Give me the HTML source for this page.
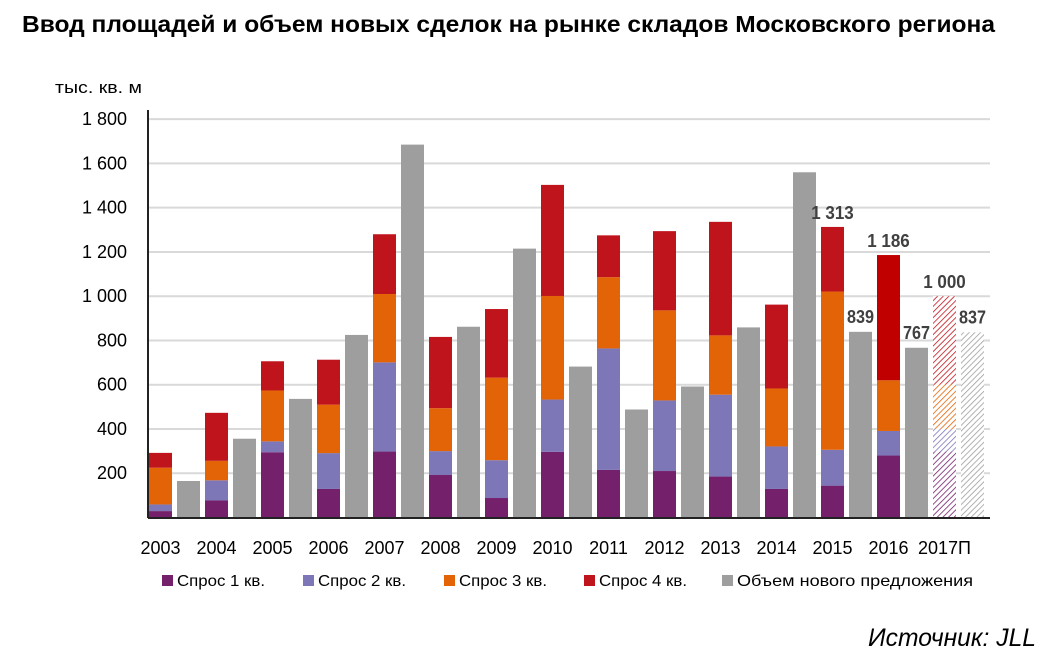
<!DOCTYPE html>
<html><head><meta charset="utf-8"><style>
body{margin:0;background:#fff;}
svg{display:block;font-family:"Liberation Sans",sans-serif;}
</style></head><body>
<svg id="chart" width="1056" height="657" viewBox="0 0 1056 657">
<defs>
<pattern id="h-p" width="4" height="4" patternUnits="userSpaceOnUse" patternTransform="rotate(45)"><rect width="4" height="4" fill="#fff"/><line x1="0" y1="0" x2="0" y2="4" stroke="#74206b" stroke-width="1.6"/></pattern>
<pattern id="h-b" width="4" height="4" patternUnits="userSpaceOnUse" patternTransform="rotate(45)"><rect width="4" height="4" fill="#fff"/><line x1="0" y1="0" x2="0" y2="4" stroke="#7d77b8" stroke-width="1.6"/></pattern>
<pattern id="h-o" width="4" height="4" patternUnits="userSpaceOnUse" patternTransform="rotate(45)"><rect width="4" height="4" fill="#fff"/><line x1="0" y1="0" x2="0" y2="4" stroke="#e36407" stroke-width="1.6"/></pattern>
<pattern id="h-r" width="4" height="4" patternUnits="userSpaceOnUse" patternTransform="rotate(45)"><rect width="4" height="4" fill="#fff"/><line x1="0" y1="0" x2="0" y2="4" stroke="#c0141c" stroke-width="1.6"/></pattern>
<pattern id="h-g" width="4" height="4" patternUnits="userSpaceOnUse" patternTransform="rotate(45)"><rect width="4" height="4" fill="#fff"/><line x1="0" y1="0" x2="0" y2="4" stroke="#9e9e9e" stroke-width="1.6"/></pattern>
</defs>
<text x="22" y="32" font-size="23" font-weight="bold" fill="#000" textLength="973" lengthAdjust="spacingAndGlyphs">Ввод площадей и объем новых сделок на рынке складов Московского региона</text>
<text x="55" y="93" font-size="17" fill="#000" textLength="87" lengthAdjust="spacingAndGlyphs">тыс. кв. м</text>
<g id="grid"></g>
<g id="bars"></g>
<g id="labels"></g>
<line x1="148" y1="110" x2="148" y2="518" stroke="#222" stroke-width="2"/>
<line x1="148" y1="518" x2="990" y2="518" stroke="#222" stroke-width="2"/>
<g id="legend"></g>
<text x="1036" y="646" font-size="25" font-style="italic" text-anchor="end" fill="#000" textLength="168" lengthAdjust="spacingAndGlyphs">Источник: JLL</text>
</svg>
<script>
const years=["2003","2004","2005","2006","2007","2008","2009","2010","2011","2012","2013","2014","2015","2016","2017П"];
const q1=[29,77,295,129,298,192,88,297,215,210,185,129,144,280,298];
const q2=[30,91,49,162,403,108,171,236,549,319,370,192,162,111,102];
const q3=[166,88,230,219,309,194,373,468,322,407,268,262,715,229,201];
const q4=[67,217,132,203,270,322,310,502,189,358,513,379,292,566,399];
const supply=[165,356,536,825,1685,862,1215,682,488,592,859,1560,839,767,837];
const yTicks=[200,400,600,800,1000,1200,1400,1600,1800];
const yTickLabels=["200","400","600","800","1 000","1 200","1 400","1 600","1 800"];
const demandLabels={12:"1 313",13:"1 186",14:"1 000"};
const supplyLabels={12:"839",13:"767",14:"837"};
const NS="http://www.w3.org/2000/svg";
const y0=517.5,k=0.2213;
const yS=v=>y0-v*k;
const xD=i=>149+56*i, xSup=i=>177+56*i, bw=23;
function mk(t,a,p){const e=document.createElementNS(NS,t);for(const n in a)e.setAttribute(n,a[n]);p.appendChild(e);return e;}
const grid=document.getElementById('grid'),bars=document.getElementById('bars'),labels=document.getElementById('labels'),legend=document.getElementById('legend');
yTicks.forEach((v,i)=>{
 const l=mk('line',{x1:148,x2:990,y1:yS(v),y2:yS(v),stroke:'#d9d9d9','stroke-width':2},grid);
 
 
 const t=mk('text',{x:127,y:yS(v)+6,'text-anchor':'end','font-size':18,fill:'#000'},grid);
 
 
 t.textContent=yTickLabels[i];
});
const cols=['#74206b','#7d77b8','#e36407','#c0141c'];
const hat=['url(#h-p)','url(#h-b)','url(#h-o)','url(#h-r)'];
const names=['demand-q1','demand-q2','demand-q3','demand-q4'];
years.forEach((yr,i)=>{
 const last=i===years.length-1;
 let cum=0;
 [q1,q2,q3,q4].forEach((s,j)=>{
  const top=yS(cum+s[i]),bot=yS(cum);
  const fill=last?hat[j]:(j===3&&i===13?'#c00000':cols[j]);
  const r=mk('rect',{x:xD(i),y:top,width:bw,height:bot-top,fill:fill},bars);
  
  
  cum+=s[i];
 });
 const r=mk('rect',{x:xSup(i),y:yS(supply[i]),width:bw,height:yS(0)-yS(supply[i]),fill:last?'url(#h-g)':'#9e9e9e'},bars);
 
 
 const t=mk('text',{x:xD(i)+bw/2,y:554,'text-anchor':'middle','font-size':18,fill:'#000'},labels);
 
 
 t.textContent=yr;
 if(demandLabels[i]){
  const d=mk('text',{x:xD(i)+bw/2,y:yS(cum)-8,'text-anchor':'middle','font-size':18,'font-weight':'bold',fill:'#404040',textLength:demandLabels[i].length*8.5,lengthAdjust:'spacingAndGlyphs'},labels);
  
  
  d.textContent=demandLabels[i];
 }
 if(supplyLabels[i]){
  const d=mk('text',{x:xSup(i)+bw/2,y:yS(supply[i])-9,'text-anchor':'middle','font-size':18,'font-weight':'bold',fill:'#404040',textLength:27,lengthAdjust:'spacingAndGlyphs'},labels);
  
  
  d.textContent=supplyLabels[i];
 }
});
const legItems=[['Спрос 1 кв.','#74206b',162,88],['Спрос 2 кв.','#7d77b8',303,88],['Спрос 3 кв.','#e36407',444,88],['Спрос 4 кв.','#c0141c',584,88],['Объем нового предложения','#9e9e9e',722,236]];
legItems.forEach(it=>{
 const g=mk('g',{},legend);
 
 
 mk('rect',{x:it[2],y:575,width:11,height:11,fill:it[1]},g);
 const t=mk('text',{x:it[2]+15,y:586,'font-size':16,fill:'#000',textLength:it[3],lengthAdjust:'spacingAndGlyphs'},g);
 t.textContent=it[0];
});
</script>
</body></html>
